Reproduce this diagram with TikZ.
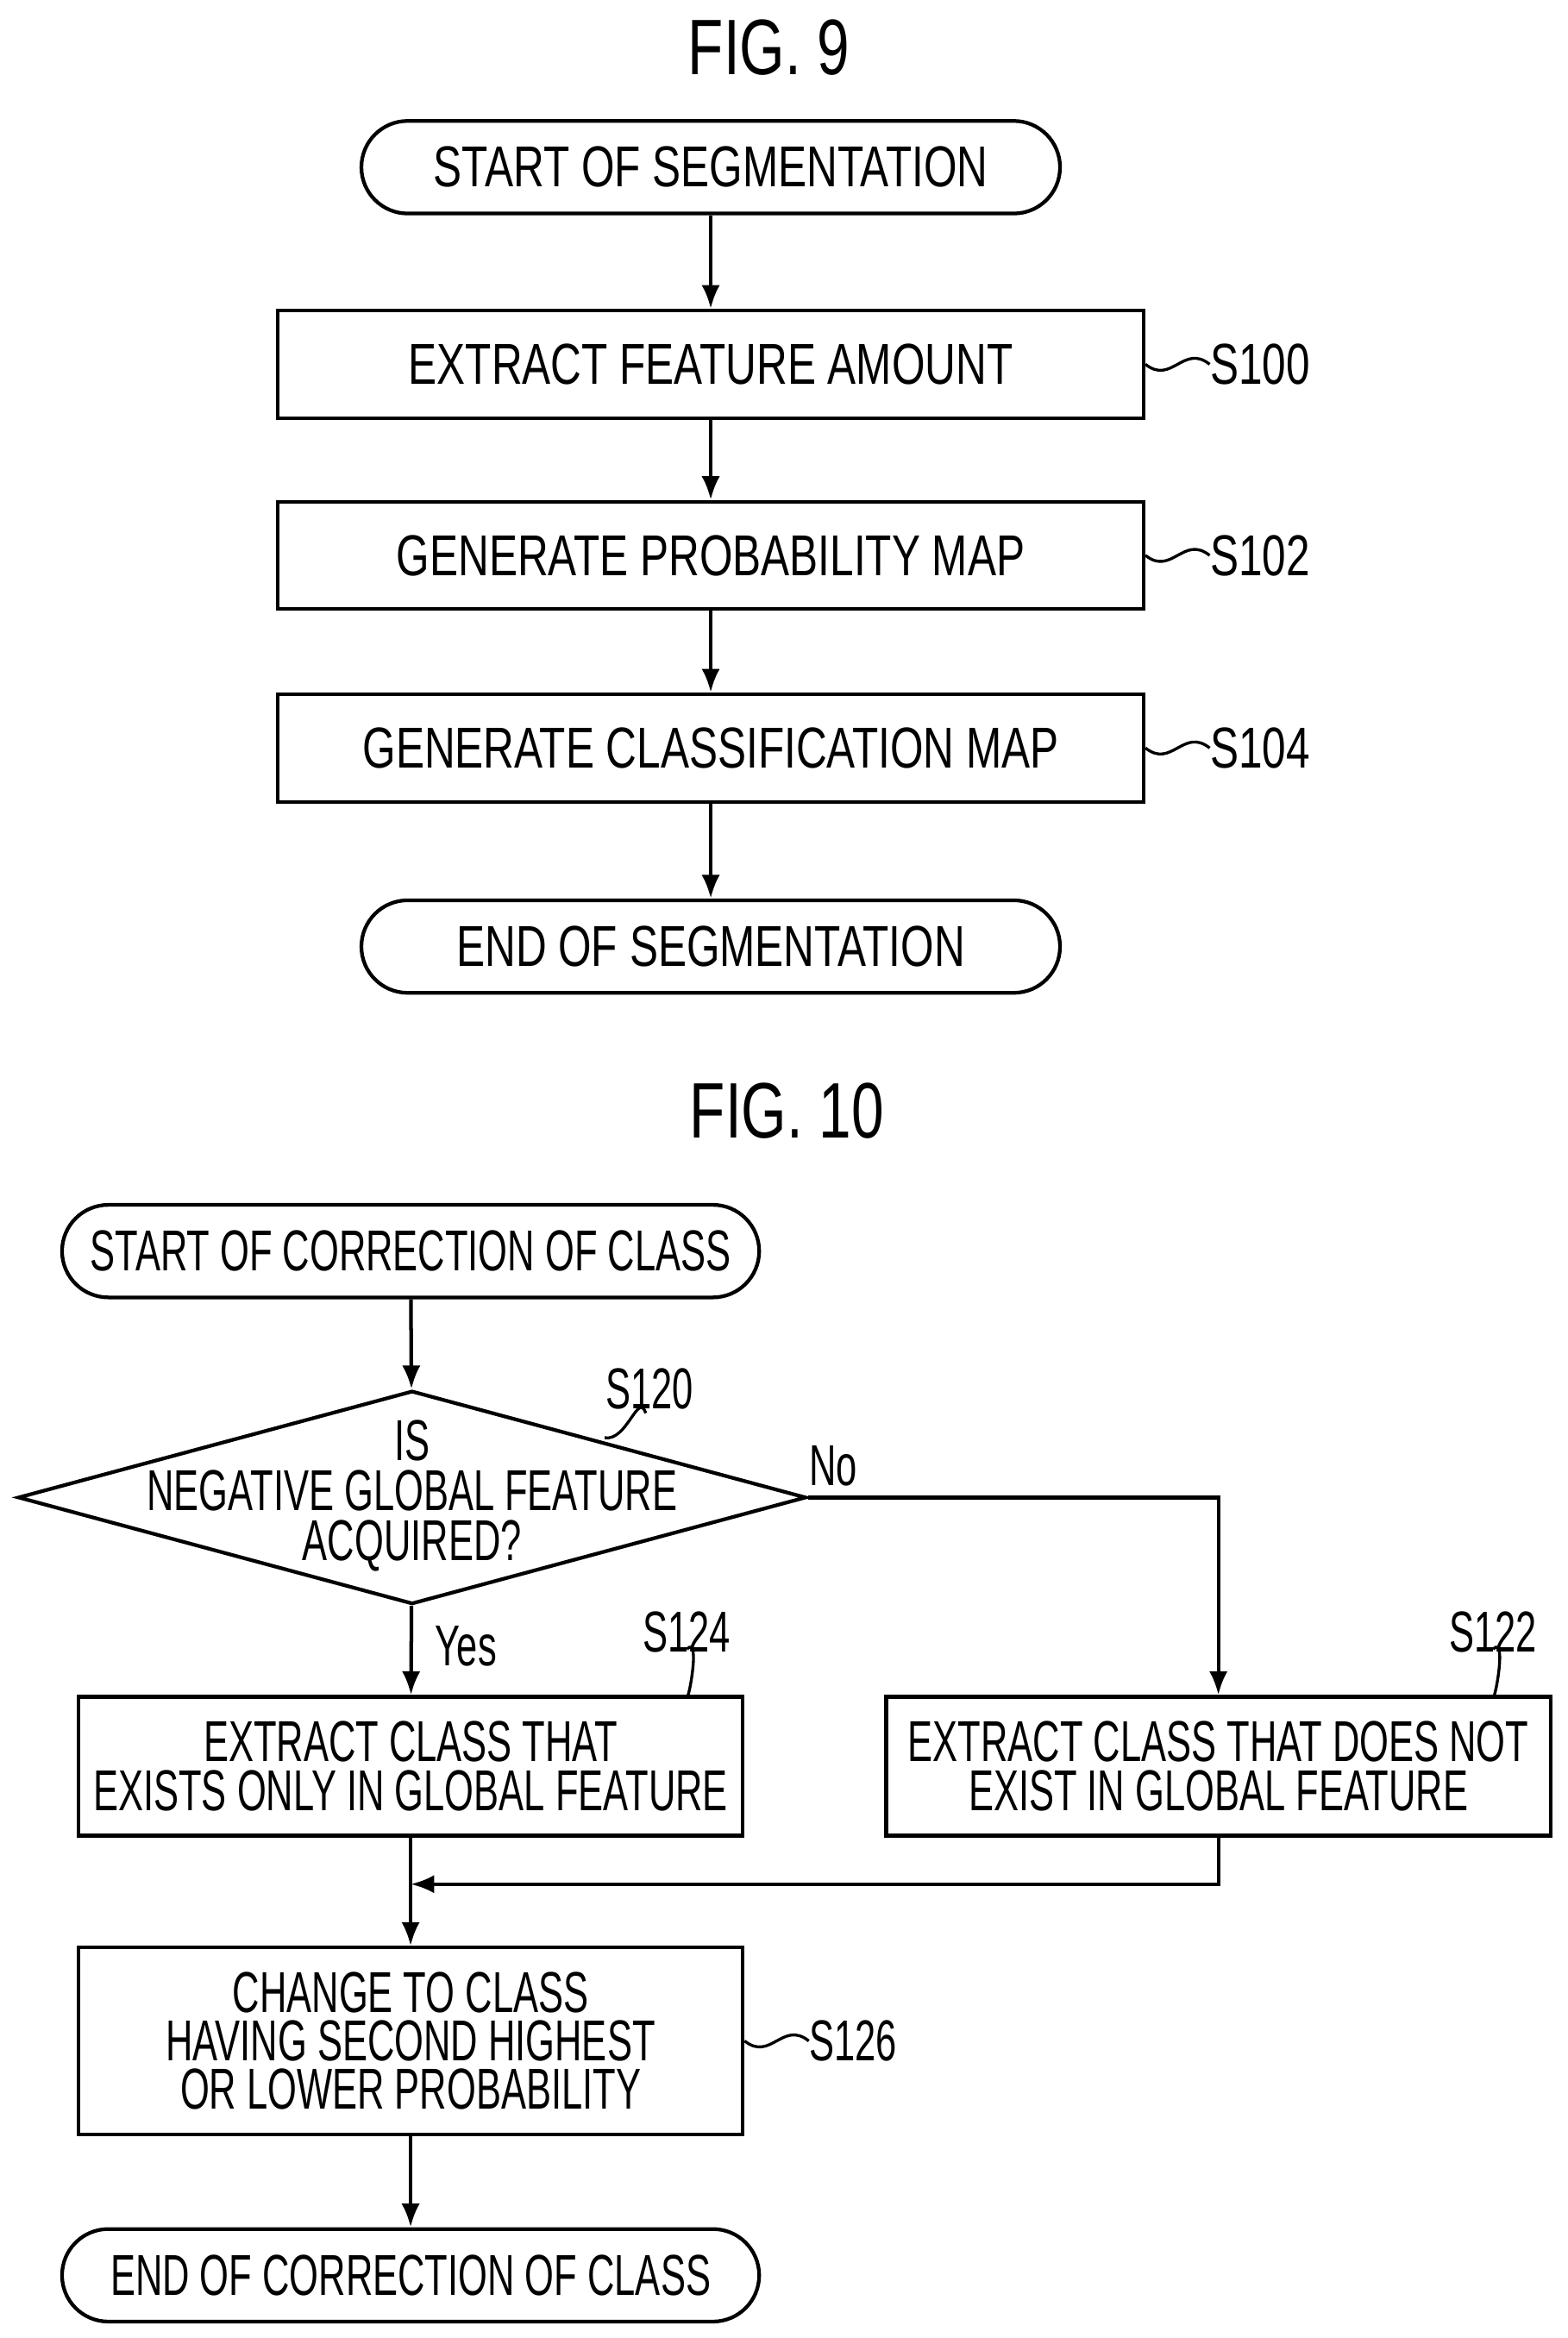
\documentclass[tikz,border=0pt]{standalone}
\usepackage{fontspec}
\setmainfont{Liberation Sans}[FakeStretch=0.74]
\newfontfamily\narrowfont{Liberation Sans}[FakeStretch=0.65]
\usetikzlibrary{shapes.geometric,arrows.meta}
\begin{document}
\begin{tikzpicture}[x=0.02cm,y=-0.02cm,
    every node/.style={font=\fontsize{22}{24}\selectfont, inner sep=0pt},
    box style/.style={draw, line width=1.4pt, minimum height=1.44cm, align=center},
    term style/.style={draw, line width=1.4pt, rounded corners=0.62cm, minimum height=1.24cm},
    narrow/.style={font=\narrowfont\fontsize{22}{18.5}\selectfont},
    flow/.style={line width=1.4pt, -{Latex[length=9pt,width=7pt]}},
    lead/.style={line width=1.1pt}]
    \useasboundingbox (0,0) rectangle (1050,1566);

    % FIG. 9
    \node[font=\fontsize{30}{32}\selectfont] (fig9) at (515,32) {FIG. 9};
    \node[term style, minimum width=9.36cm] (start9) at (476,112) {START OF SEGMENTATION};
    \node[box style, minimum width=11.6cm] (s100) at (476,244) {EXTRACT FEATURE AMOUNT};
    \node[box style, minimum width=11.6cm] (s102) at (476,372) {GENERATE PROBABILITY MAP};
    \node[box style, minimum width=11.6cm] (s104) at (476,501) {GENERATE CLASSIFICATION MAP};
    \node[term style, minimum width=9.36cm] (end9) at (476,634) {END OF SEGMENTATION};

    \draw[flow] (start9) -- (s100);
    \draw[flow] (s100) -- (s102);
    \draw[flow] (s102) -- (s104);
    \draw[flow] (s104) -- (end9);

    \foreach \n/\t in {s100/S100, s102/S102, s104/S104}{
        \node[anchor=west] (l\n) at ([xshift=0.86cm]\n.east) {\t};
        \draw[lead] (\n.east) .. controls ++(0.35cm,-0.28cm) and ++(-0.35cm,0.28cm) .. (l\n.west);
    }

    % FIG. 10
    \node[font=\fontsize{30}{32}\selectfont] (fig10) at (527,744) {FIG. 10};
    \node[term style, narrow, minimum width=9.34cm] (start10) at (275,838) {START OF CORRECTION OF CLASS};
    \node[draw, line width=1.4pt, diamond, minimum width=10.56cm, minimum height=2.86cm] (s120) at (276,1003) {};
    \node[narrow, align=center, font=\narrowfont\fontsize{22}{19}\selectfont] (q120) at (276,1002)
        {IS\\NEGATIVE GLOBAL FEATURE\\ACQUIRED?};
    \node[box style, narrow, minimum width=8.9cm, minimum height=1.86cm]
        (s124) at (275,1183) {EXTRACT CLASS THAT\\EXISTS ONLY IN GLOBAL FEATURE};
    \node[box style, narrow, minimum width=8.9cm, minimum height=1.86cm]
        (s122) at (816,1183) {EXTRACT CLASS THAT DOES NOT\\EXIST IN GLOBAL FEATURE};
    \node[box style, narrow, minimum width=8.9cm, minimum height=2.5cm]
        (s126) at (275,1367) {CHANGE TO CLASS\\HAVING SECOND HIGHEST\\OR LOWER PROBABILITY};
    \node[term style, narrow, minimum width=9.34cm] (end10) at (275,1524) {END OF CORRECTION OF CLASS};

    \coordinate (merge) at (275,1262);
    \coordinate (turn) at (816,1262);

    \draw[flow] (start10) -- (s120);
    \draw[flow] (s120) -- node[pos=0.45, right=0.3cm, narrow] (yes) {Yes} (s124);
    \draw[flow] (s120.east) -| (s122.north);
    \node[narrow] (no) at (558,982) {No};
    \draw[flow] (s122.south) -- (turn) -- (merge);
    \draw[flow] (s124.south) -- (s126.north);
    \draw[flow] (s126) -- (end10);

    \node[narrow] (ls120) at (435,930) {S120};
    \draw[lead] (ls120.south) ++(-0.05cm,-0.05cm) .. controls ++(-0.1cm,0.3cm) and ++(0.3cm,-0.05cm) .. (405,963);
    \node[narrow] (ls124) at (460,1093) {S124};
    \draw[lead] (ls124.south) ++(0,0.05cm) .. controls ++(0.2cm,0.2cm) and ++(0,-0.2cm) .. (s124.north -| 460,0);
    \node[narrow] (ls122) at (1000,1093) {S122};
    \draw[lead] (ls122.south) ++(0,0.05cm) .. controls ++(0.2cm,0.2cm) and ++(0,-0.2cm) .. (s122.north -| 1000,0);
    \node[narrow, anchor=west] (ls126) at ([xshift=0.86cm]s126.east) {S126};
    \draw[lead] (s126.east) .. controls ++(0.35cm,-0.28cm) and ++(-0.35cm,0.28cm) .. (ls126.west);
\end{tikzpicture}
\end{document}
